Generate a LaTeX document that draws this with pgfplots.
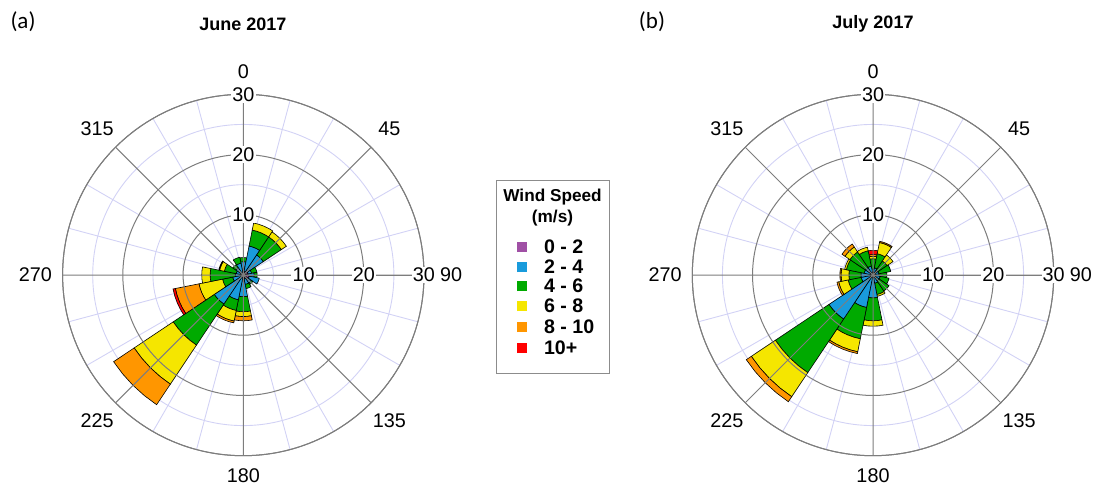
\documentclass[border=0pt]{standalone}
\usepackage{pgfplots}
\pgfplotsset{compat=1.18}
\usepackage{pgfplotstable}
\usepgfplotslibrary{polar}
\usepackage{fontspec}
\setmainfont{Liberation Sans}
\newfontfamily\panelfont{Carlito}

\definecolor{wr1}{RGB}{160,80,165}
\definecolor{wr2}{RGB}{25,155,220}
\definecolor{wr3}{RGB}{0,170,0}
\definecolor{wr4}{RGB}{245,230,0}
\definecolor{wr5}{RGB}{255,150,0}
\definecolor{wr6}{RGB}{255,0,0}
\definecolor{majgrid}{RGB}{125,125,125}
\definecolor{mingrid}{RGB}{210,210,245}

% June 2017: direction (deg from north, clockwise) and frequency per speed band (%)
\pgfplotstableread{
dir   b1  b2  b3  b4  b5   b6
0     0.5 1.7 0.7 0   0    0
22.5  0.6 4.3 2.7 1.2 0    0
45    0.5 3.5 3.6 1.0 0    0
67.5  0.8 0.6 0.9 0   0    0
90    0.8 1.0 0.5 0   0    0
112.5 1.0 1.7 0   0   0    0
135   0.8 0.8 0.3 0   0    0
157.5 0.6 1.0 0.7 0   0    0
180   0.4 3.2 2.5 0.8 0.7  0
202.5 0.4 3.8 1.8 1.8 0.3  0
225   0.3 5.5 8.2 7.8 4.1  0
247.5 0.3 1.5 1.7 4.0 4.0  0.4
270   0.3 1.0 4.2 1.4 0    0
292.5 0.3 0.9 2.0 0.8 0.15 0
315   0.3 1.2 0.6 0   0    0
337.5 0.3 1.7 1.0 0   0    0
}\juneData

% July 2017
\pgfplotstableread{
dir   b1  b2  b3   b4  b5  b6
0     0.2 0.8 1.7  0.4 0.3 0.7
22.5  0.2 1.0 2.4  1.9 0.2 0
45    0.2 0.8 1.8  1.2 0   0
67.5  0.2 0.8 2.0  0   0   0
90    0.2 0.8 1.3  0   0   0
112.5 0.2 1.0 1.5  0   0   0
135   0.2 1.0 2.0  0   0   0
157.5 0.2 1.2 1.9  0.3 0   0
180   0.2 3.6 3.8  0.9 0   0
202.5 0.2 5.3 5.3  2.2 0.3 0
225   0.2 8.6 10.7 4.8 1.0 0
247.5 0.2 1.8 2.2  1.6 0.3 0
270   0.2 1.8 2.0  1.3 0.2 0
292.5 0.2 1.3 3.0  0.3 0   0
315   0.2 1.3 3.1  1.0 0.6 0
337.5 0.2 1.3 2.6  0.6 0   0
}\julyData

% one stacked band of one direction
\newcommand\roseband[2]{%
  \pgfplotstablegetelem{\rosei}{b#2}\of#1%
  \let\bb\pgfplotsretval
  \pgfmathsetmacro\rhi{\rlo+\bb}%
  \ifdim\bb pt>0pt
    \edef\doplot{\noexpand\addplot[fill=wr#2,draw=black,line width=0.3pt]
      coordinates {(\aA,\rlo) (\aA,\rhi) (\aB,\rhi) (\aC,\rhi) (\aD,\rhi) (\aE,\rhi)
                   (\aE,\rlo) (\aD,\rlo) (\aC,\rlo) (\aB,\rlo) (\aA,\rlo)} -- cycle;}%
    \doplot
  \fi
  \let\rlo\rhi
}
\newcommand\drawrose[1]{%
  \pgfplotsforeachungrouped \rosei in {0,...,15}{%
    \pgfplotstablegetelem{\rosei}{dir}\of#1%
    \pgfmathsetmacro\aC{90-\pgfplotsretval}%
    \pgfmathsetmacro\aA{\aC-11.25}%
    \pgfmathsetmacro\aB{\aC-5.625}%
    \pgfmathsetmacro\aD{\aC+5.625}%
    \pgfmathsetmacro\aE{\aC+11.25}%
    \def\rlo{0}%
    \roseband{#1}{1}\roseband{#1}{2}\roseband{#1}{3}%
    \roseband{#1}{4}\roseband{#1}{5}\roseband{#1}{6}%
  }%
}

\pgfplotsset{
  rosebase/.style={
    scale only axis, width=180.7pt, height=180.7pt, anchor=center,
    xmin=0, xmax=360, ymin=0, ymax=30,
    xtick={0,45,...,315}, ytick={10,20,30},
    xticklabels={}, yticklabels={},
    major tick length=0pt, minor tick length=0pt,
  },
  roseunder/.style={
    rosebase,
    minor xtick={15,30,60,75,105,120,150,165,195,210,240,255,285,300,330,345},
    minor ytick={5,15,25},
    grid=minor, minor grid style={draw=mingrid, line width=0.45pt},
    axis line style={draw=none},
  },
  roseover/.style={
    rosebase, clip=false,
    grid=major, major grid style={draw=majgrid, line width=0.5pt},
    axis line style={draw=majgrid, line width=0.5pt},
  },
}
\newcommand\ticksz{\fontsize{9.9}{11.5}\selectfont}
\newcommand\roselabels{%
  \node[fill=white,inner sep=0.6pt,font=\ticksz] at (axis cs:90,10) {10};
  \node[fill=white,inner sep=0.6pt,font=\ticksz] at (axis cs:90,20) {20};
  \node[fill=white,inner sep=0.6pt,font=\ticksz] at (axis cs:90,30) {30};
  \node[fill=white,inner sep=0.6pt,font=\ticksz] at (axis cs:0,10) {10};
  \node[fill=white,inner sep=0.6pt,font=\ticksz] at (axis cs:0,20) {20};
  \node[fill=white,inner sep=0.6pt,font=\ticksz] at (axis cs:0,30) {30};
  \node[font=\ticksz] at (axis cs:90,33.8) {0};
  \node[font=\ticksz] at (axis cs:45,34.3) {45};
  \node[font=\ticksz] at (axis cs:0,34.5) {90};
  \node[font=\ticksz] at (axis cs:-45,34.3) {135};
  \node[font=\ticksz] at (axis cs:-90,33.3) {180};
  \node[font=\ticksz] at (axis cs:-135,34.3) {225};
  \node[font=\ticksz] at (axis cs:180,34.5) {270};
  \node[font=\ticksz] at (axis cs:135,34.3) {315};
}

\begin{document}
\begin{tikzpicture}
\useasboundingbox (0,0) rectangle (548pt,244.5pt);

% ---- panel (a)
\begin{polaraxis}[roseunder, at={(121.65pt,107pt)}]
  \drawrose{\juneData}
\end{polaraxis}
\begin{polaraxis}[roseover, at={(121.65pt,107pt)}]
  \roselabels
\end{polaraxis}

% ---- panel (b)
\begin{polaraxis}[roseunder, at={(436.5pt,107pt)}]
  \drawrose{\julyData}
\end{polaraxis}
\begin{polaraxis}[roseover, at={(436.5pt,107pt)}]
  \roselabels
\end{polaraxis}

% titles
\node[font=\bfseries\fontsize{9}{10}\selectfont] at (121.5pt,232.5pt) {June 2017};
\node[font=\bfseries\fontsize{9}{10}\selectfont] at (436.5pt,232.5pt) {July 2017};
\node[font=\panelfont\fontsize{11.5}{13}\selectfont] at (11.5pt,233.5pt) {(a)};
\node[font=\panelfont\fontsize{11.5}{13}\selectfont] at (326pt,233.5pt) {(b)};

% legend
\draw[draw=black!45, line width=0.4pt] (248pt,58pt) rectangle (304.5pt,154.5pt);
\node[font=\bfseries\fontsize{8.6}{10}\selectfont] at (276.25pt,146pt) {Wind Speed};
\node[font=\bfseries\fontsize{8.6}{10}\selectfont] at (276.25pt,135.5pt) {(m/s)};
\node[inner sep=0pt] at (261pt,121pt) {\textcolor{wr1}{\rule{5pt}{5pt}}};
\node[inner sep=0pt] at (261pt,111pt) {\textcolor{wr2}{\rule{5pt}{5pt}}};
\node[inner sep=0pt] at (261pt,101.5pt) {\textcolor{wr3}{\rule{5pt}{5pt}}};
\node[inner sep=0pt] at (261pt,91.5pt) {\textcolor{wr4}{\rule{5pt}{5pt}}};
\node[inner sep=0pt] at (261pt,81pt) {\textcolor{wr5}{\rule{5pt}{5pt}}};
\node[inner sep=0pt] at (261pt,70.5pt) {\textcolor{wr6}{\rule{5pt}{5pt}}};
\node[anchor=west,font=\bfseries\fontsize{9.8}{11}\selectfont] at (268.5pt,121pt) {0 - 2};
\node[anchor=west,font=\bfseries\fontsize{9.8}{11}\selectfont] at (268.5pt,111pt) {2 - 4};
\node[anchor=west,font=\bfseries\fontsize{9.8}{11}\selectfont] at (268.5pt,101.5pt) {4 - 6};
\node[anchor=west,font=\bfseries\fontsize{9.8}{11}\selectfont] at (268.5pt,91.5pt) {6 - 8};
\node[anchor=west,font=\bfseries\fontsize{9.8}{11}\selectfont] at (268.5pt,81pt) {8 - 10};
\node[anchor=west,font=\bfseries\fontsize{9.8}{11}\selectfont] at (268.5pt,70.5pt) {10+};
\end{tikzpicture}
\end{document}
